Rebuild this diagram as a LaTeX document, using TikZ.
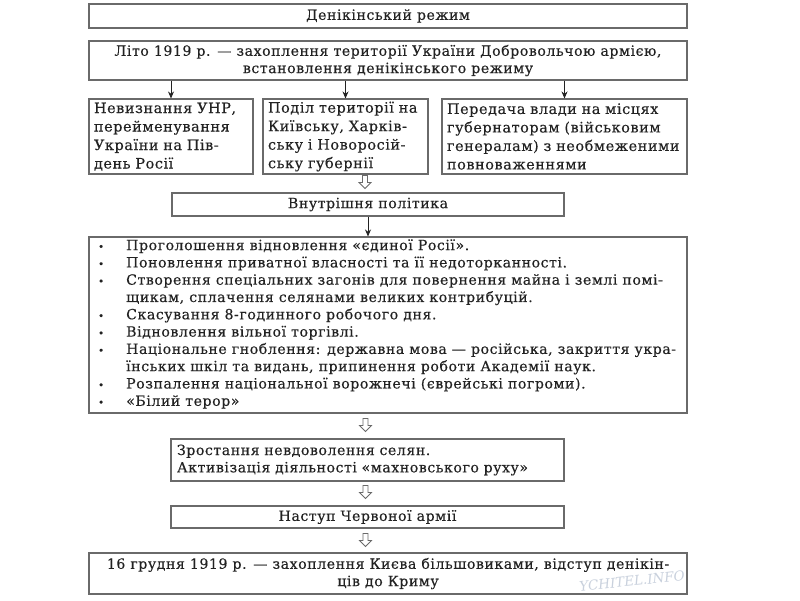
\documentclass[tikz,border=0pt]{standalone}
\usepackage{fontspec}
\setmainfont{DejaVu Serif}[FakeBold=0.3, LetterSpace=4]
\newfontfamily\wmfont{DejaVu Serif}
\usetikzlibrary{calc,arrows.meta}
\definecolor{edge}{HTML}{6A6A6A}
\definecolor{ink}{HTML}{222222}
\definecolor{wmark}{HTML}{C9D1DD}
\newcommand\bul{\makebox[29pt][l]{\hspace{1pt}\scalebox{0.7}{•}}}
\newcommand\cont{\hspace*{29pt}}
\begin{document}
\begin{tikzpicture}[x=1pt,y=-1pt,
  box/.style={draw=edge, line width=1.1pt, inner sep=0pt, text=ink},
  conn/.style={draw=ink, line width=0.8pt, -{Stealth[length=7pt,width=6pt]}},
  txt/.style={font=\fontsize{14.1}{17.3}\selectfont, text=ink},
  txtb/.style={font=\fontsize{14.4}{18.5}\selectfont, text=ink},
  hollowarrow/.pic={\draw[edge, line width=0.8pt, fill=white] (-2.5,-7) -- (2.5,-7) -- (2.5,0) -- (6,0) -- (0,6) -- (-6,0) -- (-2.5,0) -- cycle;}
]
\useasboundingbox[fill=white] (0,0) rectangle (800,600);

\node[box, txt, minimum width=598, minimum height=24] (b1) at (388,16) {Денікінський режим};
\node[box, txt, minimum width=598, minimum height=39, align=center] (b2) at (388,60.5)
  {Літо 1919 р. — захоплення території України Добровольчою армією,\\ встановлення денікінського режиму};

\node[box, txtb, minimum width=164, minimum height=75, text width=154, align=left] (bA) at (171,136.5)
  {Невизнання УНР,\\ перейменування\\ України на Пів-\\ день Росії};
\node[box, txtb, minimum width=165, minimum height=75, text width=155, align=left] (bB) at (345.5,136.5)
  {Поділ території на\\ Київську, Харків-\\ ську і Новоросій-\\ ську губернії};
\node[box, txtb, minimum width=245, minimum height=75, text width=235, align=left] (bC) at (564.5,136.5)
  {Передача влади на місцях\\ губернаторам (військовим\\ генералам) з необмеженими\\ повноваженнями};

\node[box, txt, minimum width=392, minimum height=23] (bV) at (368,204.5) {Внутрішня політика};

\node[box, minimum width=598, minimum height=176] (lst) at (388,325) {};
\node[txt, anchor=west, align=left, inner sep=0pt] (lt) at (97,324)
  {\bul Проголошення відновлення «єдиної Росії».\\
   \bul Поновлення приватної власності та її недоторканності.\\
   \bul Створення спеціальних загонів для повернення майна і землі помі-\\
   \cont щикам, сплачення селянами великих контрибуцій.\\
   \bul Скасування 8-годинного робочого дня.\\
   \bul Відновлення вільної торгівлі.\\
   \bul Національне гноблення: державна мова — російська, закриття укра-\\
   \cont їнських шкіл та видань, припинення роботи Академії наук.\\
   \bul Розпалення національної ворожнечі (єврейські погроми).\\
   \bul «Білий терор»};

\node[box, txt, minimum width=393, minimum height=42, text width=381, align=left] (bZ) at (367.5,460)
  {Зростання невдоволення селян.\\ Активізація діяльності «махновського руху»};
\node[box, txt, minimum width=393, minimum height=22] (bN) at (367.5,517) {Наступ Червоної армії};
\node[box, txt, minimum width=598, minimum height=41, align=center] (bF) at (388,573.5)
  {16 грудня 1919 р. — захоплення Києва більшовиками, відступ денікін-\\ ців до Криму};

\node[font=\wmfont\itshape\fontsize{13.5}{13.5}\selectfont, text=wmark, rotate=6] (wm) at (632,581) {YCHITEL.INFO};

\draw[conn] (b2.south -| bA.north) -- (bA.north);
\draw[conn] (b2.south -| bB.north) -- (bB.north);
\draw[conn] (b2.south -| bC.north) -- (bC.north);
\draw[conn] (bV.south) -- (bV.south |- lst.north);

\pic at ($(bV.north)+(-3,-10)$) {hollowarrow};
\pic at ($(bZ.north)+(-2,-13)$) {hollowarrow};
\pic at ($(bN.north)+(-2,-13)$) {hollowarrow};
\pic at ($(bN.south)+(-2,12)$) {hollowarrow};
\end{tikzpicture}
\end{document}
